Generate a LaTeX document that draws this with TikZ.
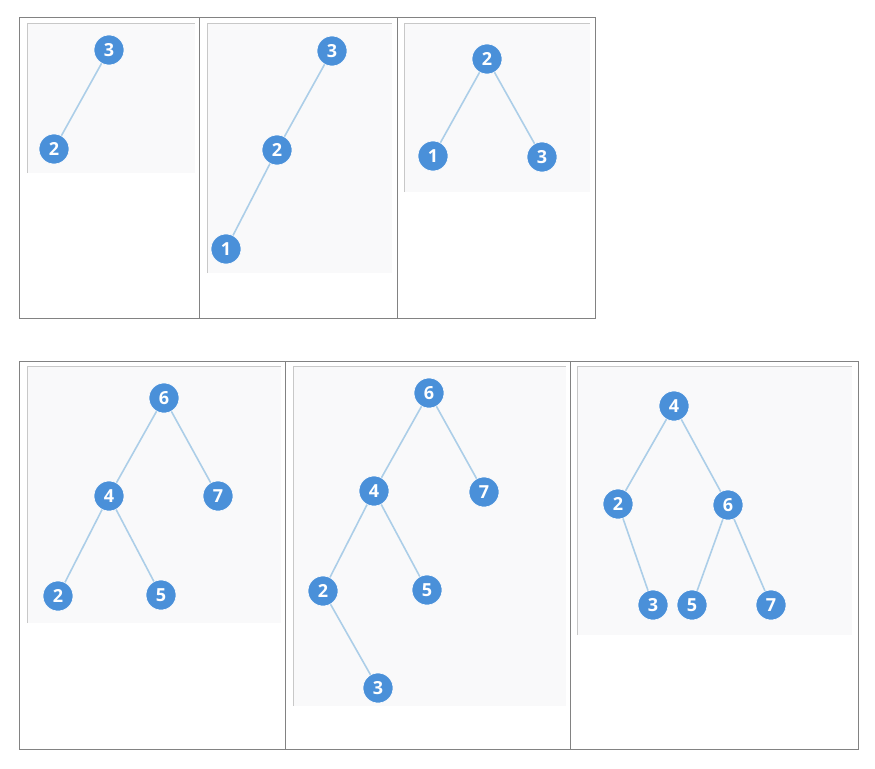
\documentclass[tikz,border=0pt]{standalone}
\usepackage{fontspec}
\setmainfont{Open Sans}
\definecolor{nodeblue}{RGB}{74,144,217}
\definecolor{edgeblue}{RGB}{172,206,232}
\definecolor{imgbg}{RGB}{249,249,250}
\definecolor{imgedge}{RGB}{200,200,200}
\definecolor{tabline}{RGB}{130,130,130}
\tikzset{
  tn/.style={circle,fill=nodeblue,draw=white,line width=0.6pt,minimum size=30pt,inner sep=0pt,text=white,font=\bfseries\fontsize{18}{18}\selectfont},
  te/.style={draw=edgeblue,line width=1.6pt},
  tab/.style={draw=tabline,line width=1pt},
  img/.style={fill=imgbg},
  imgb/.style={draw=imgedge,line width=1pt}
}
\begin{document}
\begin{tikzpicture}[x=1pt,y=-1pt]
\useasboundingbox (0,0) rectangle (875,768);
\fill[white] (0,0) rectangle (875,768);
% tables
\draw[tab] (19,18) rectangle (595,318);
\draw[tab] (199,18) -- (199,318);
\draw[tab] (397,18) -- (397,318);
\draw[tab] (19,361) rectangle (858,749);
\draw[tab] (285,361) -- (285,749);
\draw[tab] (570,361) -- (570,749);
% image panels
\foreach \a/\b/\c/\d in {27/24/195/173, 207/24/392/273, 404/24/590/192, 27/366/281/623, 293/366/566/706, 577/366/852/635}{
  \fill[img] (\a,\b) rectangle (\c,\d);
  \draw[imgb] (\a,\d) -- (\a,\b) -- (\c,\b);
}
% tree 1
\node[tn] (a3) at (109,50) {3};
\node[tn] (a2) at (54,149) {2};
% tree 2
\node[tn] (b3) at (332,51) {3};
\node[tn] (b2) at (277,150) {2};
\node[tn] (b1) at (226,249) {1};
% tree 3
\node[tn] (c2) at (487,59) {2};
\node[tn] (c1) at (433,156) {1};
\node[tn] (c3) at (542,157) {3};
% tree 4
\node[tn] (d6) at (164,398) {6};
\node[tn] (d4) at (109,496) {4};
\node[tn] (d7) at (218,496) {7};
\node[tn] (d2) at (58,596) {2};
\node[tn] (d5) at (161,595) {5};
% tree 5
\node[tn] (e6) at (429,393) {6};
\node[tn] (e4) at (374,491) {4};
\node[tn] (e7) at (484,492) {7};
\node[tn] (e2) at (323,591) {2};
\node[tn] (e5) at (427,590) {5};
\node[tn] (e3) at (378,688) {3};
% tree 6
\node[tn] (f4) at (674,406) {4};
\node[tn] (f2) at (618,504) {2};
\node[tn] (f6) at (728,505) {6};
\node[tn] (f3) at (653,605) {3};
\node[tn] (f5) at (692,605) {5};
\node[tn] (f7) at (771,605) {7};
% edges
\draw[te] (a3) -- (a2);
\draw[te] (b3) -- (b2) (b2) -- (b1);
\draw[te] (c2) -- (c1) (c2) -- (c3);
\draw[te] (d6) -- (d4) (d6) -- (d7) (d4) -- (d2) (d4) -- (d5);
\draw[te] (e6) -- (e4) (e6) -- (e7) (e4) -- (e2) (e4) -- (e5) (e2) -- (e3);
\draw[te] (f4) -- (f2) (f4) -- (f6) (f2) -- (f3) (f6) -- (f5) (f6) -- (f7);
\end{tikzpicture}
\end{document}
